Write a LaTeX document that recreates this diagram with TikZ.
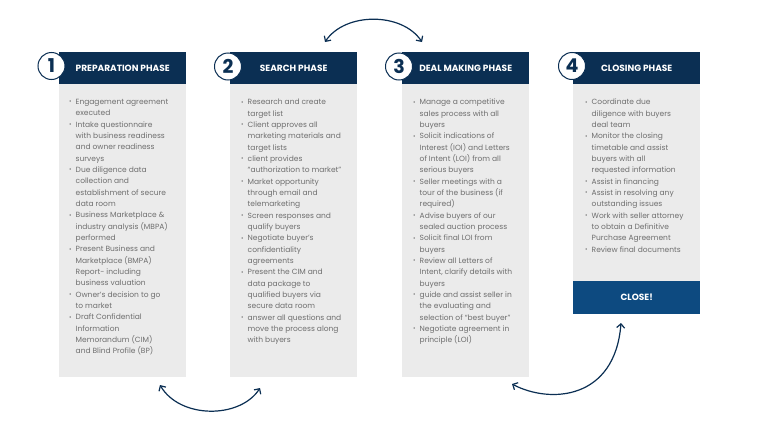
\documentclass[tikz,border=0pt]{standalone}
\usepackage{fontspec}
\setmainfont{Poppins}
\usetikzlibrary{arrows.meta}
\definecolor{navy}{HTML}{0B2F53}
\definecolor{closeblue}{HTML}{0D4A80}
\definecolor{panelgrey}{HTML}{EBEBEB}
\definecolor{textgrey}{HTML}{6E6E6E}
% bullet line and continuation line
\newcommand{\bl}{\makebox[6.5pt][l]{\raisebox{0.6pt}{\fontsize{6}{6}\selectfont •}}}
\newcommand{\cl}{\hspace*{6.5pt}}
\begin{document}
\begin{tikzpicture}[x=1pt,y=-1pt,
	head/.style={fill=navy, text=white, font=\fontsize{9}{10}\selectfont\bfseries, minimum width=127pt, minimum height=32pt, inner sep=0, anchor=north west},
	panel/.style={fill=panelgrey, minimum width=127pt, inner sep=0, anchor=north west},
	body/.style={anchor=north west, inner sep=0, align=left, text=textgrey, font=\fontsize{7.5}{11.33}\selectfont},
	num/.style={circle, draw=navy, fill=white, line width=1pt, minimum size=27pt, inner sep=0, font=\fontsize{19}{19}\selectfont\bfseries, text=navy},
	swap/.style={draw=navy, line width=1.2pt, {Straight Barb[length=4pt,width=8pt]}-{Straight Barb[length=4pt,width=8pt]}}]

		\fill[white] (0,0) rectangle (768,434);
		\useasboundingbox (0,0) rectangle (768,434);

		% grey panels
		\node[panel, minimum height=293pt] (p1) at (59,84) {};
		\node[panel, minimum height=293pt] (p2) at (230,84) {};
		\node[panel, minimum height=293pt] (p3) at (402,84) {};
		\node[panel, minimum height=197pt] (p4) at (573,84) {};
		\node[head, fill=closeblue, minimum height=33pt] (close) at (573,281) {CLOSE!};

		% headers
		\node[head] (h1) at (59,52) {PREPARATION PHASE};
		\node[head] (h2) at (230,52) {SEARCH PHASE};
		\node[head] (h3) at (402,52) {DEAL MAKING PHASE};
		\node[head] (h4) at (573,52) {CLOSING PHASE};

		\node[num] (n1) at (51.5,66) {1};
		\node[num] (n2) at (228,66.5) {2};
		\node[num] (n3) at (399,66.5) {3};
		\node[num] (n4) at (572,66) {4};

		% bullet lists
		\node[body] (b1) at (69,99) {\bl Engagement agreement\\ \cl executed\\
			\bl Intake questionnaire\\ \cl with business readiness\\ \cl and owner readiness\\ \cl surveys\\
			\bl Due diligence data\\ \cl collection and\\ \cl establishment of secure\\ \cl data room\\
			\bl Business Marketplace \&\\ \cl industry analysis (MBPA)\\ \cl performed\\
			\bl Present Business and\\ \cl Marketplace (BMPA)\\ \cl Report- including\\ \cl business valuation\\
			\bl Owner’s decision to go\\ \cl to market\\
			\bl Draft Confidential\\ \cl Information\\ \cl Memorandum (CIM)\\ \cl and Blind Profile (BP)};
		\node[body] (b2) at (241,99) {\bl Research and create\\ \cl target list\\
			\bl Client approves all\\ \cl marketing materials and\\ \cl target lists\\
			\bl client provides\\ \cl “authorization to market”\\
			\bl Market opportunity\\ \cl through email and\\ \cl telemarketing\\
			\bl Screen responses and\\ \cl qualify buyers\\
			\bl Negotiate buyer’s\\ \cl confidentiality\\ \cl agreements\\
			\bl Present the CIM and\\ \cl data package to\\ \cl qualified buyers via\\ \cl secure data room\\
			\bl answer all questions and\\ \cl move the process along\\ \cl with buyers};
		\node[body] (b3) at (413,99) {\bl Manage a competitive\\ \cl sales process with all\\ \cl buyers\\
			\bl Solicit indications of\\ \cl Interest (IOI) and Letters\\ \cl of Intent (LOI) from all\\ \cl serious buyers\\
			\bl Seller meetings with a\\ \cl tour of the business (if\\ \cl required)\\
			\bl Advise buyers of our\\ \cl sealed auction process\\
			\bl Solicit final LOI from\\ \cl buyers\\
			\bl Review all Letters of\\ \cl Intent, clarify details with\\ \cl buyers\\
			\bl guide and assist seller in\\ \cl the evaluating and\\ \cl selection of “best buyer”\\
			\bl Negotiate agreement in\\ \cl principle (LOI)};
		\node[body] (b4) at (585,99) {\bl Coordinate due\\ \cl diligence with buyers\\ \cl deal team\\
			\bl Monitor the closing\\ \cl timetable and assist\\ \cl buyers with all\\ \cl requested information\\
			\bl Assist in financing\\
			\bl Assist in resolving any\\ \cl outstanding issues\\
			\bl Work with seller attorney\\ \cl to obtain a Definitive\\ \cl Purchase Agreement\\
			\bl Review final documents};

		% swap arrows
		\coordinate (t1) at (325,42);
		\coordinate (t2) at (422,42);
		\coordinate (u1) at (160,385);
		\coordinate (u2) at (260,388);
		\coordinate (v1) at (512,384);
		\coordinate (v2) at (621,323);
		\draw[swap] (t1) .. controls (345,12) and (402,12) .. (t2);
		\draw[swap] (u1) .. controls (180,419) and (240,419) .. (u2);
		\draw[swap] (v1) .. controls (550,404) and (615,400) .. (v2);
	\end{tikzpicture}
\end{document}
